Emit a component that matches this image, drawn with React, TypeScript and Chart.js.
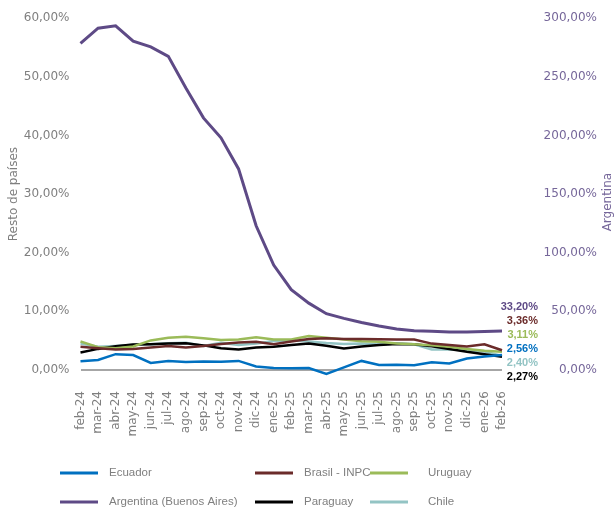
import { useEffect, useRef } from 'react';
import { Chart, registerables } from 'chart.js';
Chart.register(...registerables);

const months = ['feb-24', 'mar-24', 'abr-24', 'may-24', 'jun-24', 'jul-24', 'ago-24', 'sep-24', 'oct-24', 'nov-24', 'dic-24', 'ene-25', 'feb-25', 'mar-25', 'abr-25', 'may-25', 'jun-25', 'jul-25', 'ago-25', 'sep-25', 'oct-25', 'nov-25', 'dic-25', 'ene-26', 'feb-26'];

const ecuador = [1.5, 1.7, 2.7, 2.55, 1.2, 1.55, 1.35, 1.45, 1.4, 1.55, 0.6, 0.35, 0.3, 0.35, -0.65, 0.45, 1.55, 0.85, 0.9, 0.8, 1.3, 1.1, 1.95, 2.3, 2.56];
const brasil = [3.95, 3.7, 3.5, 3.6, 3.85, 4.1, 3.85, 4.1, 4.45, 4.7, 4.8, 4.4, 4.85, 5.3, 5.4, 5.3, 5.3, 5.25, 5.2, 5.2, 4.5, 4.25, 4.0, 4.4, 3.36];
const uruguay = [4.85, 3.9, 3.7, 4.0, 5.05, 5.5, 5.65, 5.4, 5.1, 5.2, 5.6, 5.2, 5.2, 5.8, 5.5, 5.2, 4.9, 4.8, 4.5, 4.4, 4.2, 3.95, 3.6, 3.3, 3.11];
const argentina = [278.5, 291.5, 293.5, 280.5, 275.5, 267.5, 240.5, 215, 198, 171.5, 123, 89.5, 68.5, 57, 48, 44, 40.5, 37.5, 35, 33.5, 33, 32.5, 32.3, 32.8, 33.2];
const paraguay = [3.0, 3.6, 4.05, 4.35, 4.4, 4.5, 4.55, 4.2, 3.7, 3.5, 3.85, 3.95, 4.25, 4.5, 4.15, 3.65, 4.0, 4.25, 4.45, 4.4, 4.05, 3.6, 3.1, 2.7, 2.27];
const chile = [4.5, 3.95, 4.1, 4.3, 4.4, 4.55, 4.65, 4.1, 4.65, 4.25, 4.5, 4.95, 5.05, 4.85, 4.6, 4.45, 4.5, 4.35, 4.5, 4.4, 3.5, 3.5, 3.4, 3.15, 2.4];

const leftTicks = [0, 10, 20, 30, 40, 50, 60];
const rightTicks = [0, 50, 100, 150, 200, 250, 300];

const FONT = '"DejaVu Sans", sans-serif';
const LEGEND_FONT = '11.5px "Liberation Sans", sans-serif';
const GRAY = '#7f7f7f';
const PURPLE_TXT = '#76679a';

const fmt = (v: number) => v.toFixed(2).replace('.', ',') + '%';

export default function App() {
  const ref = useRef<HTMLCanvasElement>(null);
  useEffect(() => {
    const canvas = ref.current!;
    const series = [
      { label: 'Ecuador', data: ecuador, color: '#0070c0', axis: 'y' },
      { label: 'Brasil - INPC', data: brasil, color: '#6b2b2a', axis: 'y' },
      { label: 'Uruguay', data: uruguay, color: '#9bbb59', axis: 'y' },
      { label: 'Argentina (Buenos Aires)', data: argentina, color: '#5e4a86', axis: 'y2' },
      { label: 'Paraguay', data: paraguay, color: '#000000', axis: 'y' },
      { label: 'Chile', data: chile, color: '#93c4c4', axis: 'y' },
    ];

    const extras = {
      id: 'extras',
      afterDatasetsDraw(chart: any) {
        const c = chart.ctx;
        const items = chart.data.datasets.map((ds: any, i: number) => {
          const meta = chart.getDatasetMeta(i);
          const pt = meta.data[meta.data.length - 1];
          return { v: ds.data[ds.data.length - 1], x: pt.x, y: pt.y, color: ds.borderColor };
        });
        items.sort((a: any, b: any) => b.v - a.v);
        const y0 = items[0].y - 24;
        c.save();
        c.font = 'bold 11px "Liberation Sans", sans-serif';
        c.textAlign = 'right';
        c.textBaseline = 'middle';
        items.forEach((it: any, k: number) => {
          c.fillStyle = it.color;
          c.fillText(fmt(it.v), it.x + 36, y0 + k * 14);
        });
        c.restore();
      },
      afterDraw(chart: any) {
        const c = chart.ctx;
        const ca = chart.chartArea;
        c.save();
        c.translate(608, (ca.top + ca.bottom) / 2 + 8);
        c.rotate(-Math.PI / 2);
        c.font = '12px ' + FONT;
        c.fillStyle = PURPLE_TXT;
        c.textAlign = 'center';
        c.textBaseline = 'middle';
        c.fillText('Argentina', 0, 0);
        c.restore();
        const lineX = [60, 255, 370];
        const textX = [109, 304, 428];
        const rowY = [473, 502];
        c.save();
        c.font = LEGEND_FONT;
        c.textBaseline = 'middle';
        c.textAlign = 'left';
        chart.data.datasets.forEach((ds: any, i: number) => {
          const col = i % 3;
          const row = Math.floor(i / 3);
          c.strokeStyle = ds.borderColor;
          c.lineWidth = 3;
          c.beginPath();
          c.moveTo(lineX[col], rowY[row]);
          c.lineTo(lineX[col] + 38, rowY[row]);
          c.stroke();
          c.fillStyle = GRAY;
          c.fillText(ds.label, textX[col], rowY[row]);
        });
        c.restore();
      },
    };

    const chart = new Chart(canvas, {
      type: 'line',
      data: {
        labels: months,
        datasets: series.map((s) => ({
          label: s.label,
          data: s.data,
          borderColor: s.color,
          backgroundColor: s.color,
          borderWidth: s.axis === 'y2' ? 3 : 2.5,
          pointRadius: 0,
          tension: 0,
          yAxisID: s.axis,
          clip: false as any,
        })),
      },
      options: {
        animation: false,
        responsive: false,
        layout: { padding: { top: 17, right: 17, left: 0, bottom: 0 } },
        plugins: { legend: { display: false }, tooltip: { enabled: false } },
        scales: {
          x: {
            offset: false,
            grid: { display: false, drawTicks: false },
            border: { display: false },
            ticks: {
              autoSkip: false,
              minRotation: 90,
              maxRotation: 90,
              padding: 21,
              color: GRAY,
              font: { family: FONT, size: 12 },
            },
            afterFit: (s: any) => { s.height = 140; },
          },
          y: {
            position: 'left',
            min: 0,
            max: 60,
            afterBuildTicks: (s: any) => { s.ticks = leftTicks.map((v) => ({ value: v })); },
            grid: {
              drawTicks: false,
              color: (ctx: any) => (ctx.tick && ctx.tick.value === 0 ? '#a6a6a6' : 'rgba(0,0,0,0)'),
              lineWidth: 2,
            },
            border: { display: false },
            ticks: {
              padding: 11,
              color: GRAY,
              font: { family: FONT, size: 12 },
              callback: (v: any) => fmt(Number(v)),
            },
            title: {
              display: true,
              text: 'Resto de países',
              color: GRAY,
              font: { family: FONT, size: 12 },
              padding: { top: 7, bottom: 0 },
            },
            afterFit: (s: any) => { s.width = 80.5; },
          },
          y2: {
            position: 'right',
            min: 0,
            max: 300,
            afterBuildTicks: (s: any) => { s.ticks = rightTicks.map((v) => ({ value: v })); },
            grid: { display: false, drawTicks: false },
            border: { display: false },
            ticks: {
              crossAlign: 'far',
              padding: 10,
              color: PURPLE_TXT,
              font: { family: FONT, size: 12 },
              callback: (v: any) => fmt(Number(v)),
            },
            afterFit: (s: any) => { s.width = 95; },
          },
        },
      },
      plugins: [extras],
    } as any);
    return () => chart.destroy();
  }, []);
  return (
    <canvas
      ref={ref}
      width={614}
      height={510}
      style={{ position: 'absolute', left: 0, top: 0, width: 614, height: 510 }}
    />
  );
}
